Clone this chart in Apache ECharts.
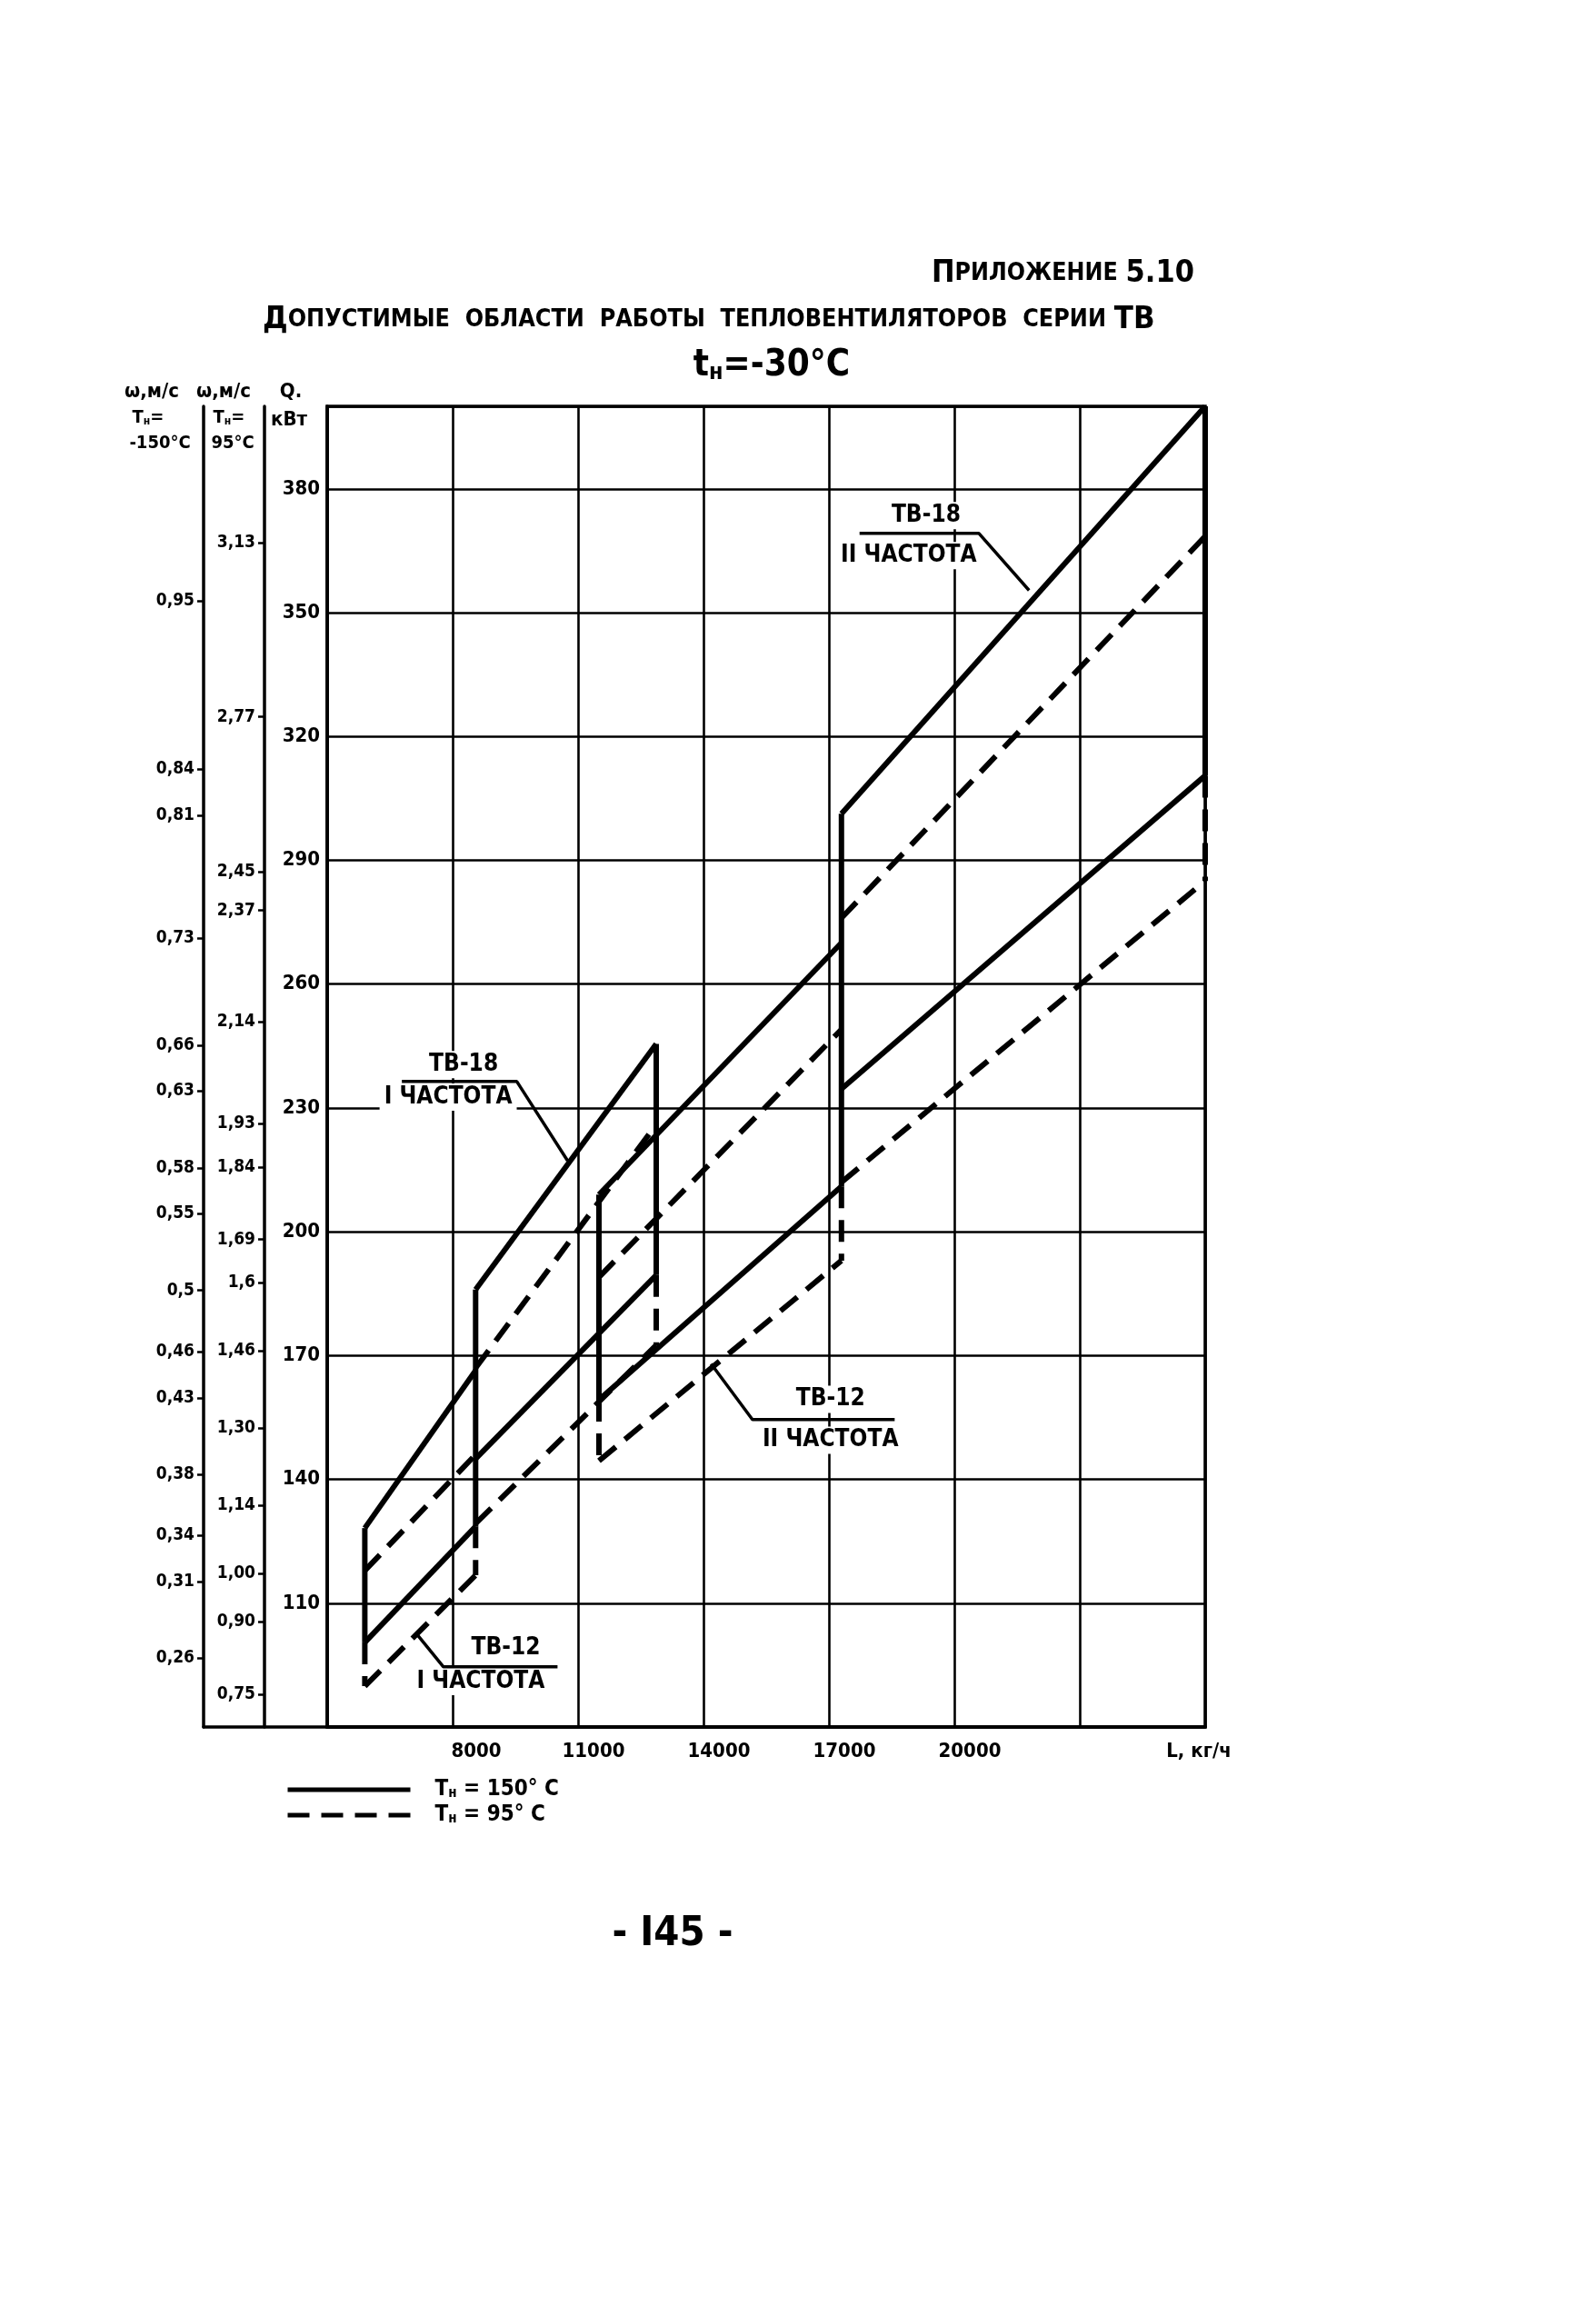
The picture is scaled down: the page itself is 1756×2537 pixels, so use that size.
<!DOCTYPE html>
<html>
<head>
<meta charset="utf-8">
<script src="https://cdn.jsdelivr.net/npm/echarts@6/dist/echarts.min.js"></script>
<style>
html,body{margin:0;padding:0;background:#fff;}
#chart{width:1756px;height:2537px;}
</style>
</head>
<body>
<div id="chart"></div>
<script>
// ---------------- data ----------------
const xTickValues = [8000, 11000, 14000, 17000, 20000, 26000];
const xTickLabels = ['8000', '11000', '14000', '17000', '20000', 'L, кг/ч'];
const qTickValues = [110, 140, 170, 200, 230, 260, 290, 320, 350, 380];
const qTickLabels = ['110', '140', '170', '200', '230', '260', '290', '320', '350', '380'];
const w150TickValues = [0.95, 0.84, 0.81, 0.73, 0.66, 0.63, 0.58, 0.55, 0.5, 0.46, 0.43, 0.38, 0.34, 0.31, 0.26];
const w150TickLabels = ['0,95', '0,84', '0,81', '0,73', '0,66', '0,63', '0,58', '0,55', '0,5', '0,46', '0,43', '0,38', '0,34', '0,31', '0,26'];
const w95TickValues = [3.13, 2.77, 2.45, 2.37, 2.14, 1.93, 1.84, 1.69, 1.6, 1.46, 1.30, 1.14, 1.00, 0.90, 0.75];
const w95TickLabels = ['3,13', '2,77', '2,45', '2,37', '2,14', '1,93', '1,84', '1,69', '1,6', '1,46', '1,30', '1,14', '1,00', '0,90', '0,75'];

// operating regions: L range (kg/h), Q (kW) at Tн=150°C (solid) and Tн=95°C (dashed)
const regionL0  = [5900, 5900, 8550, 8550, 11500, 11500, 17300, 17300];
const regionL1  = [8550, 8550, 12870, 12870, 17300, 17300, 26000, 26000];
const solidQ0   = [100.5, 128.2, 186, 145, 159.3, 209, 301.3, 234.6];
const solidQ1   = [128.6, 166.4, 245.5, 189.5, 211, 270, 400, 310.5];
const dashedQ0  = [89.9, 117.9, 167, 129.3, 144.5, 189, 276, 212];
const dashedQ1  = [116.8, 146, 226, 172.5, 193, 249, 368.5, 285];

// annotation labels (data coordinates)
const labelText = ['ТВ-18', 'I ЧАСТОТА', 'ТВ-18', 'II ЧАСТОТА', 'ТВ-12', 'II ЧАСТОТА', 'ТВ-12', 'I ЧАСТОТА'];
const labelL    = [8264, 7893, 19324, 18910, 17037, 17037, 9272, 8673];
const labelQ    = [240.5, 232.6, 373.5, 363.8, 159.4, 149.5, 99.2, 91.0];
const leaderTB18I  = [[6786, 236.4], [9536, 236.4], [10750, 217.2]];
const leaderTB18II = [[17733, 369.2], [20589, 369.2], [21788, 355.4]];
const leaderTB12II = [[18573, 154.5], [15171, 154.5], [14183, 168]];
const leaderTB12I  = [[10509, 94.6], [7776, 94.6], [7135, 102.6]];

const solidName = 'Тн = 150° C';
const dashedName = 'Тн = 95° C';

// ---------------- chart ----------------
const FONT = '"Liberation Sans Narrow","DejaVu Sans Condensed","Liberation Sans",sans-serif';
const K = '#000';
function lookup(vals, labels, v) {
  for (let i = 0; i < vals.length; i++) if (Math.abs(vals[i] - v) < 1e-6) return labels[i];
  return '';
}
const DASH = [24, 13];
const series = [];
for (let i = 0; i < regionL0.length; i++) {
  series.push({type: 'line', name: solidName, data: [[regionL0[i], solidQ0[i]], [regionL1[i], solidQ1[i]]],
    symbol: 'none', clip: false, z: 5, lineStyle: {color: K, width: 6, type: 'solid'}, itemStyle: {color: K}});
  series.push({type: 'line', name: dashedName, data: [[regionL0[i], dashedQ0[i]], [regionL1[i], dashedQ1[i]]],
    symbol: 'none', clip: false, z: 5, lineStyle: {color: K, width: 6, type: DASH}, itemStyle: {color: K}});
}
// vertical edges derived from region ends
const bounds = Array.from(new Set(regionL0.concat(regionL1))).sort((a, b) => a - b);
bounds.forEach(b => {
  const s = [], d = [];
  for (let i = 0; i < regionL0.length; i++) {
    if (regionL0[i] === b) { s.push(solidQ0[i]); d.push(dashedQ0[i]); }
    if (regionL1[i] === b) { s.push(solidQ1[i]); d.push(dashedQ1[i]); }
  }
  const sTop = Math.max(...s), sBot = Math.min(...s), dBot = Math.min(...d);
  series.push({type: 'line', name: solidName, data: [[b, sTop], [b, sBot]], symbol: 'none', clip: false, z: 5,
    lineStyle: {color: K, width: 6, type: 'solid'}, itemStyle: {color: K}});
  if (dBot < sBot) series.push({type: 'line', name: dashedName, data: [[b, sBot], [b, dBot]], symbol: 'none', clip: false, z: 5,
    lineStyle: {color: K, width: 6, type: DASH}, itemStyle: {color: K}});
});
[leaderTB18I, leaderTB18II, leaderTB12II, leaderTB12I].forEach(ld => {
  series.push({type: 'line', name: 'leader', data: ld, symbol: 'none', clip: false, z: 6,
    lineStyle: {color: K, width: 3.5}, itemStyle: {color: K}});
});
series.push({type: 'scatter', name: 'labels', z: 4, symbolSize: 0.1, itemStyle: {color: '#fff', opacity: 1},
  data: labelL.map((l, i) => [l, labelQ[i], labelText[i]]),
  label: {show: true, position: 'inside', formatter: p => p.data[2], color: '#000', opacity: 1, textBorderWidth: 0,
    textBorderColor: 'transparent', fontFamily: FONT, fontWeight: 'bold', fontSize: 26,
    backgroundColor: '#fff', padding: [2, 5]}});

const axisFont = {color: K, fontFamily: FONT, fontWeight: 'bold', fontSize: 22};
const txt = (x, y, text, size, align, rich) => ({type: 'text', x: x, y: y, z: 10,
  style: {text: text, fill: K, fontFamily: FONT, fontWeight: 'bold', fontSize: size, align: align || 'center', verticalAlign: 'middle', rich: rich || {}}});
const subRich = (size) => ({a: {fontSize: size, fontWeight: 'bold', fontFamily: FONT, fill: K},
  sub: {fontSize: Math.round(size * 0.62), fontWeight: 'bold', fontFamily: FONT, fill: K, padding: [Math.round(size * 0.35), 0, 0, 0]}});

const GL = 360, GT = 447, GW = 966, GH = 1453;
const option = {
  backgroundColor: '#fff',
  animation: false,
  grid: [
    {left: GL, top: GT, width: GW, height: GH, show: true, borderColor: K, borderWidth: 3.5, backgroundColor: 'transparent'},
    {left: GL - 136, top: GT, width: GW + 136, height: GH, show: false}
  ],
  xAxis: [
    {type: 'value', gridIndex: 0, min: 5000, max: 26000, interval: 3000,
      axisLine: {show: true, lineStyle: {color: K, width: 3.5}}, axisTick: {show: false},
      splitLine: {show: true, lineStyle: {color: K, width: 2.6}},
      axisLabel: {margin: 16, formatter: v => {
          const t = lookup(xTickValues, xTickLabels, v);
          if (!t) return '';
          if (v === 26000) return '{e|' + t + '}';
          if (v === 8000) return '{f|' + t + '}';
          return '{n|' + t + '}';
        },
        rich: {n: Object.assign({padding: [0, 0, 0, 34]}, axisFont),
               f: Object.assign({padding: [0, 0, 0, 52]}, axisFont),
               e: Object.assign({padding: [0, 14, 0, 0]}, axisFont)}}},
    {type: 'value', gridIndex: 1, min: 0, max: 1, axisLine: {show: true, lineStyle: {color: K, width: 3.5}},
      axisTick: {show: false}, axisLabel: {show: false}, splitLine: {show: false}}
  ],
  yAxis: [
    {type: 'value', gridIndex: 0, min: 80, max: 400, interval: 30,
      axisLine: {show: true, lineStyle: {color: K, width: 3.5}}, axisTick: {show: false},
      splitLine: {show: true, lineStyle: {color: K, width: 2.6}},
      axisLabel: Object.assign({margin: 8, formatter: v => lookup(qTickValues, qTickLabels, v)}, axisFont)},
    {type: 'value', gridIndex: 0, position: 'left', offset: 69, min: 0.6824, max: 3.412,
      axisLine: {show: true, onZero: false, lineStyle: {color: K, width: 3.5}},
      axisTick: {show: true, length: 7, customValues: w95TickValues, lineStyle: {color: K, width: 2.5}},
      splitLine: {show: false},
      axisLabel: Object.assign({margin: 10, customValues: w95TickValues, formatter: v => lookup(w95TickValues, w95TickLabels, v)}, axisFont, {fontSize: 19})},
    {type: 'value', gridIndex: 0, position: 'left', offset: 136, min: 0.2152, max: 1.0768,
      axisLine: {show: true, onZero: false, lineStyle: {color: K, width: 3.5}},
      axisTick: {show: true, length: 7, customValues: w150TickValues, lineStyle: {color: K, width: 2.5}},
      splitLine: {show: false},
      axisLabel: Object.assign({margin: 10, customValues: w150TickValues, formatter: v => lookup(w150TickValues, w150TickLabels, v)}, axisFont, {fontSize: 19})},
    {type: 'value', gridIndex: 1, show: false, min: 0, max: 1}
  ],
  legend: {
    data: [solidName, dashedName], orient: 'vertical', left: 309, top: 1952, itemWidth: 135, itemHeight: 20, itemGap: 4,
    selectedMode: false, lineStyle: {width: 5, color: K}, itemStyle: {opacity: 0},
    formatter: name => '{a|Т}{sub|н}{a|' + (name === solidName ? ' = 150° C' : ' = 95° C') + '}',
    textStyle: {padding: [0, 0, 0, 22], rich: {
      a: {fontSize: 24, fontWeight: 'bold', fontFamily: FONT, color: K},
      sub: {fontSize: 15, fontWeight: 'bold', fontFamily: FONT, color: K, padding: [9, 0, 0, 0]}}}
  },
  graphic: [
    txt(1314, 301, '{b|П}{s|РИЛОЖЕНИЕ} {b|5.10}', 28, 'right', {
      b: {fontSize: 34, fontWeight: 'bold', fontFamily: FONT, fill: K},
      s: {fontSize: 26.5, fontWeight: 'bold', fontFamily: FONT, fill: K}}),
    txt(289, 352, '{b|Д}{s|ОПУСТИМЫЕ  ОБЛАСТИ  РАБОТЫ  ТЕПЛОВЕНТИЛЯТОРОВ  СЕРИИ} {b|ТВ}', 28, 'left', {
      b: {fontSize: 34.5, fontWeight: 'bold', fontFamily: FONT, fill: K},
      s: {fontSize: 26.7, fontWeight: 'bold', fontFamily: FONT, fill: K}}),
    txt(849, 403, '{a|t}{sub|н}{a|=-30°C}', 40, 'center', subRich(40)),
    txt(167, 431, 'ω,м/с', 22, 'center'),
    txt(246, 431, 'ω,м/с', 22, 'center'),
    txt(320, 431, 'Q.', 22, 'center'),
    txt(163, 460, '{a|Т}{sub|н}{a|=}', 20, 'center', subRich(20)),
    txt(176, 488, '-150°C', 20, 'center'),
    txt(252, 460, '{a|Т}{sub|н}{a|=}', 20, 'center', subRich(20)),
    txt(256, 488, '95°C', 20, 'center'),
    txt(318, 462, 'кВт', 22, 'center'),
    txt(740, 2128, '- I45 -', 45, 'center')
  ],
  series: series
};
const chart = echarts.init(document.getElementById('chart'), null, {renderer: 'canvas'});
chart.setOption(option);
</script>
</body>
</html>
